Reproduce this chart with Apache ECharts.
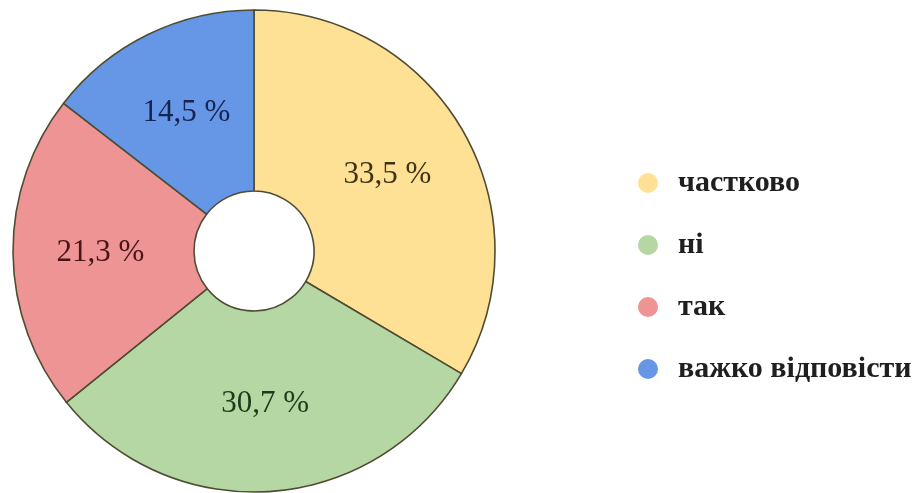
<!DOCTYPE html>
<html>
<head>
<meta charset="utf-8">
<script src="https://cdn.jsdelivr.net/npm/echarts@6/dist/echarts.min.js"></script>
<style>
  html, body { margin: 0; padding: 0; background: #fff; }
  #chart { width: 920px; height: 493px; }
</style>
</head>
<body>
<div id="chart"></div>
<script>
// answers and their shares (%)
var categories = ['частково', 'ні', 'так', 'важко відповісти'];
var values = [33.5, 30.7, 21.3, 14.5];
var sliceColors = ['#ffe196', '#b5d7a3', '#ee9494', '#6597e6'];
var labelColors = ['#3d3414', '#1f3a1a', '#4a1414', '#162452'];

var chart = echarts.init(document.getElementById('chart'), null, { renderer: 'canvas' });

var data = categories.map(function (name, i) {
  return {
    name: name,
    value: values[i],
    itemStyle: { color: sliceColors[i] },
    label: { color: labelColors[i] }
  };
});

chart.setOption({
  animation: false,
  legend: {
    orient: 'vertical',
    left: 633,
    top: 163,
    itemWidth: 20,
    itemHeight: 20,
    itemGap: 32,
    icon: 'circle',
    itemStyle: { borderWidth: 0 },
    textStyle: {
      fontFamily: '"Liberation Serif", "DejaVu Serif", serif',
      fontSize: 30,
      fontWeight: 'bold',
      color: '#1f1f1f',
      padding: [0, 0, 0, 15]
    },
    data: categories
  },
  series: [{
    type: 'pie',
    center: [254, 251],
    radius: [60, 241],
    startAngle: 90,
    clockwise: true,
    itemStyle: {
      borderColor: '#4f4c33',
      borderWidth: 1.6
    },
    label: {
      show: true,
      position: 'inside',
      fontFamily: '"Liberation Serif", "DejaVu Serif", serif',
      fontSize: 31,
      formatter: function (p) {
        return p.value.toFixed(1).replace('.', ',') + ' %';
      }
    },
    labelLine: { show: false },
    emphasis: { disabled: true },
    data: data
  }]
});
</script>
</body>
</html>
